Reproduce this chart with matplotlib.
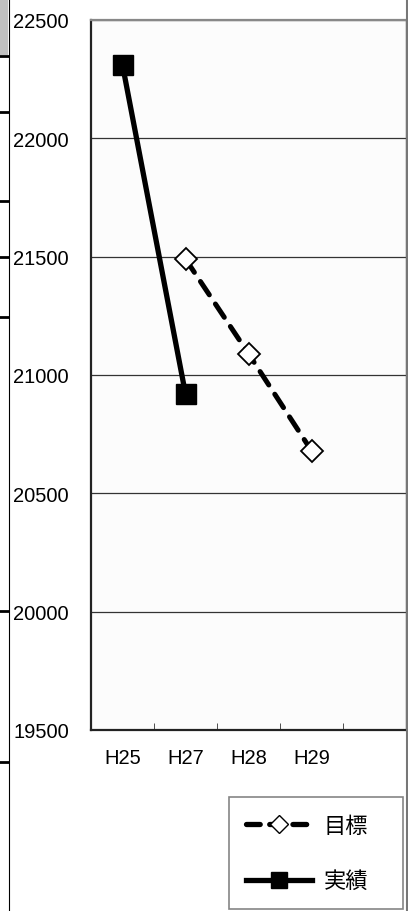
import matplotlib.pyplot as plt
from matplotlib.lines import Line2D
from matplotlib.patches import Rectangle

plt.rcParams['font.family'] = ['Liberation Sans', 'Noto Sans CJK JP']

# データ
categories = ["H25", "H27", "H28", "H29", ""]
actual_years = ["H25", "H27"]
actual_values = [22310, 20920]
target_years = ["H27", "H28", "H29"]
target_values = [21490, 21090, 20680]
y_ticks = [19500, 20000, 20500, 21000, 21500, 22000, 22500]

fig = plt.figure(figsize=(4.08, 9.12), dpi=100)
W, H = 408, 912

ax = fig.add_axes([91 / W, 1 - 731 / H, 315 / W, 710 / H])
ax.set_facecolor("#fcfcfc")

xpos = {c: i for i, c in enumerate(categories)}
ax.set_xlim(-0.5, len(categories) - 0.5)
ax.set_ylim(19500, 22500)

ax.plot([xpos[c] for c in actual_years], actual_values, color="black",
        lw=3.8, marker="s", ms=14, mfc="black", mec="black", zorder=4)
ax.plot([xpos[c] for c in target_years], target_values, color="black",
        lw=3.6, ls=(0, (3.2, 2.2)), dash_capstyle="round", marker="D",
        ms=11, mfc="white", mec="black", mew=1.3, zorder=5)

ax.set_yticks(y_ticks)
ax.set_yticklabels([str(v) for v in y_ticks], fontsize=14.5, ha="left")
ax.tick_params(axis="y", length=0, pad=56)
ax.set_xticks(range(len(categories)))
ax.set_xticklabels(categories, fontsize=14.5)
ax.set_xticks([i + 0.5 for i in range(len(categories) - 1)], minor=True)
ax.tick_params(axis="x", which="major", length=0, pad=13)
ax.tick_params(axis="x", which="minor", length=5, direction="in", color="#333333")

ax.yaxis.grid(True, color="#333333", lw=0.9)
ax.set_axisbelow(True)
for s in ["left", "bottom"]:
    ax.spines[s].set_color("#222222")
    ax.spines[s].set_linewidth(1.6)
ax.spines["top"].set_color("#888888")
ax.spines["top"].set_linewidth(1.6)
ax.spines["right"].set_color("#555555")
ax.spines["right"].set_linewidth(1.0)

# 凡例
handles = [
    Line2D([], [], color="black", lw=3.8, ls=(0, (2.6, 1.8)),
           dash_capstyle="round", marker="D", ms=9, mfc="white", mec="black"),
    Line2D([], [], color="black", lw=3.8, marker="s", ms=12, mfc="black"),
]
leg = fig.legend(handles, ["目標", "実績"], loc="lower left",
                 bbox_to_anchor=(229 / W, 1 - 910 / H, 174 / W, 110 / H),
                 mode="expand", fontsize=16, handlelength=3.0,
                 labelspacing=1.45, borderpad=0.75, borderaxespad=0,
                 fancybox=False, edgecolor="#666666", handletextpad=0.5)
leg.get_frame().set_linewidth(1.2)
for t in leg.get_texts():
    t.set_family(['Noto Sans CJK JP'])

# 左端の隣接表の切れ端
fig.add_artist(Rectangle((0, 1 - 56 / H), 8 / W, 56 / H, transform=fig.transFigure,
                         facecolor="#c0c0c0", edgecolor="none"))
fig.add_artist(Line2D([8.5 / W, 8.5 / W], [0, 1], transform=fig.transFigure,
                      color="black", lw=0.8))
for yy in [57, 113, 202, 258, 318, 612, 763]:
    fig.add_artist(Line2D([0, 8 / W], [1 - yy / H, 1 - yy / H],
                          transform=fig.transFigure, color="black", lw=2))
fig.add_artist(Line2D([406.5 / W, 406.5 / W], [0, 1], transform=fig.transFigure,
                      color="#777777", lw=1.5))

fig.savefig("out.png", dpi=100)
